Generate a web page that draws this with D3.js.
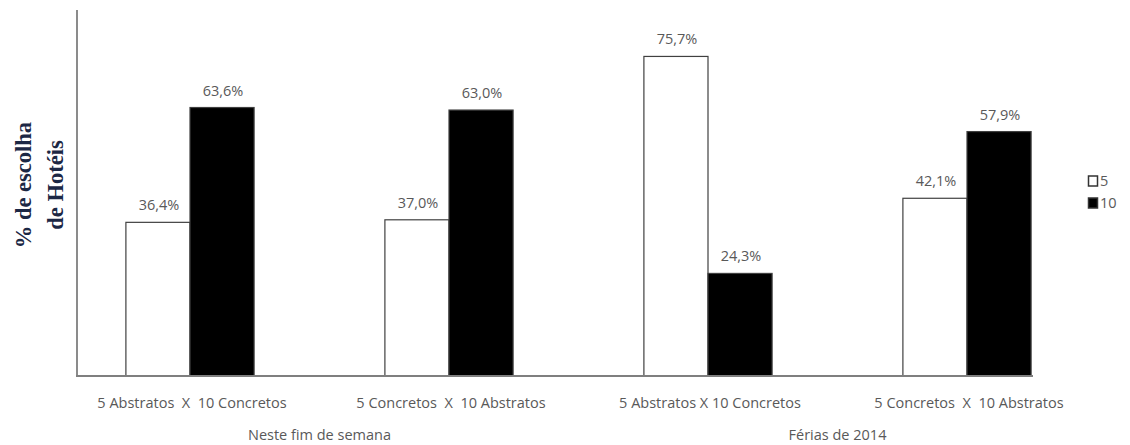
<!DOCTYPE html>
<html>
<head>
<meta charset="utf-8">
<script src="https://cdn.jsdelivr.net/npm/d3@7"></script>
<style>
  html, body { margin: 0; padding: 0; background: #fff; }
  svg { display: block; }
  .lbl { font-family: "Open Sans", "Liberation Sans", sans-serif; fill: #595959; }
</style>
</head>
<body>
<svg id="chart" width="1130" height="445"></svg>
<script>
// Hotel choice share (%) by comparison and scenario
const categories = [
  "5 Abstratos  X  10 Concretos",
  "5 Concretos  X  10 Abstratos",
  "5 Abstratos X 10 Concretos",
  "5 Concretos  X  10 Abstratos"
];
const groups = ["Neste fim de semana", "Férias de 2014"];
const groupOf = [0, 0, 1, 1];
const seriesNames = ["5", "10"];
const values5 = [36.4, 37.0, 75.7, 42.1];
const values10 = [63.6, 63.0, 24.3, 57.9];
const series = [values5, values10];
const fills = ["#ffffff", "#000000"];

const svg = d3.select("#chart");
const baseY = 376, topY = 10;
const fs = 14.5;

const x = d3.scaleBand().domain(d3.range(categories.length))
  .range([60.5, 1096.5]).paddingInner(0.505).paddingOuter(0.2525);
const xs = d3.scaleBand().domain(d3.range(series.length))
  .range([0, x.bandwidth()]);
const y = d3.scaleLinear().domain([0, 86.7]).range([baseY, topY]);

const fmt = v => d3.format(".1f")(v).replace(".", ",") + "%";

// bars with value labels
series.forEach((vals, si) => {
  const g = svg.append("g");
  g.selectAll("rect").data(vals).join("rect")
    .attr("x", (d, i) => x(i) + xs(si))
    .attr("y", d => y(d))
    .attr("width", xs.bandwidth())
    .attr("height", d => baseY - y(d))
    .attr("fill", fills[si])
    .attr("stroke", "#404040")
    .attr("stroke-width", 1.2);
  g.selectAll("text").data(vals).join("text")
    .attr("class", "lbl")
    .attr("x", (d, i) => x(i) + xs(si) + xs.bandwidth() / 2 + 1)
    .attr("y", d => y(d) - 12)
    .attr("text-anchor", "middle")
    .attr("font-size", fs)
    .text(d => fmt(d));
});

// axes
svg.append("line").attr("x1", 77).attr("x2", 77).attr("y1", topY).attr("y2", baseY + 1)
  .attr("stroke", "#7f7f7f").attr("stroke-width", 1.8);
svg.append("line").attr("x1", 76).attr("x2", 1033).attr("y1", baseY).attr("y2", baseY)
  .attr("stroke", "#7f7f7f").attr("stroke-width", 2);

// category labels
svg.append("g").selectAll("text").data(categories).join("text")
  .attr("class", "lbl")
  .attr("x", (d, i) => x(i) + x.bandwidth() / 2 + 2)
  .attr("y", 408)
  .attr("text-anchor", "middle")
  .attr("font-size", fs)
  .style("white-space", "pre")
  .text(d => d);

// scenario labels
svg.append("g").selectAll("text").data(groups).join("text")
  .attr("class", "lbl")
  .attr("x", (d, gi) => {
    const idx = d3.range(categories.length).filter(i => groupOf[i] === gi);
    return d3.mean(idx, i => x(i) + x.bandwidth() / 2);
  })
  .attr("y", 440)
  .attr("text-anchor", "middle")
  .attr("font-size", fs)
  .text(d => d);

// y title
const yt = svg.append("text")
  .attr("transform", "translate(0,185) rotate(-90)")
  .attr("text-anchor", "middle")
  .attr("font-family", "'Liberation Serif', 'DejaVu Serif', serif")
  .attr("font-weight", "bold")
  .attr("font-size", 22.5)
  .attr("fill", "#1c2744");
yt.append("tspan").attr("x", 0).attr("y", 31).text("% de escolha");
yt.append("tspan").attr("x", 0).attr("y", 63).text("de Hotéis");

// legend
const leg = svg.append("g").attr("transform", "translate(1088,176)");
seriesNames.forEach((s, i) => {
  leg.append("rect").attr("x", 0.5).attr("y", i * 22).attr("width", 9).attr("height", 10)
    .attr("fill", fills[i]).attr("stroke", "#333").attr("stroke-width", 1.5);
  leg.append("text").attr("class", "lbl").attr("x", 12).attr("y", i * 22 + 10)
    .attr("font-size", fs).text(s);
});
</script>
</body>
</html>
